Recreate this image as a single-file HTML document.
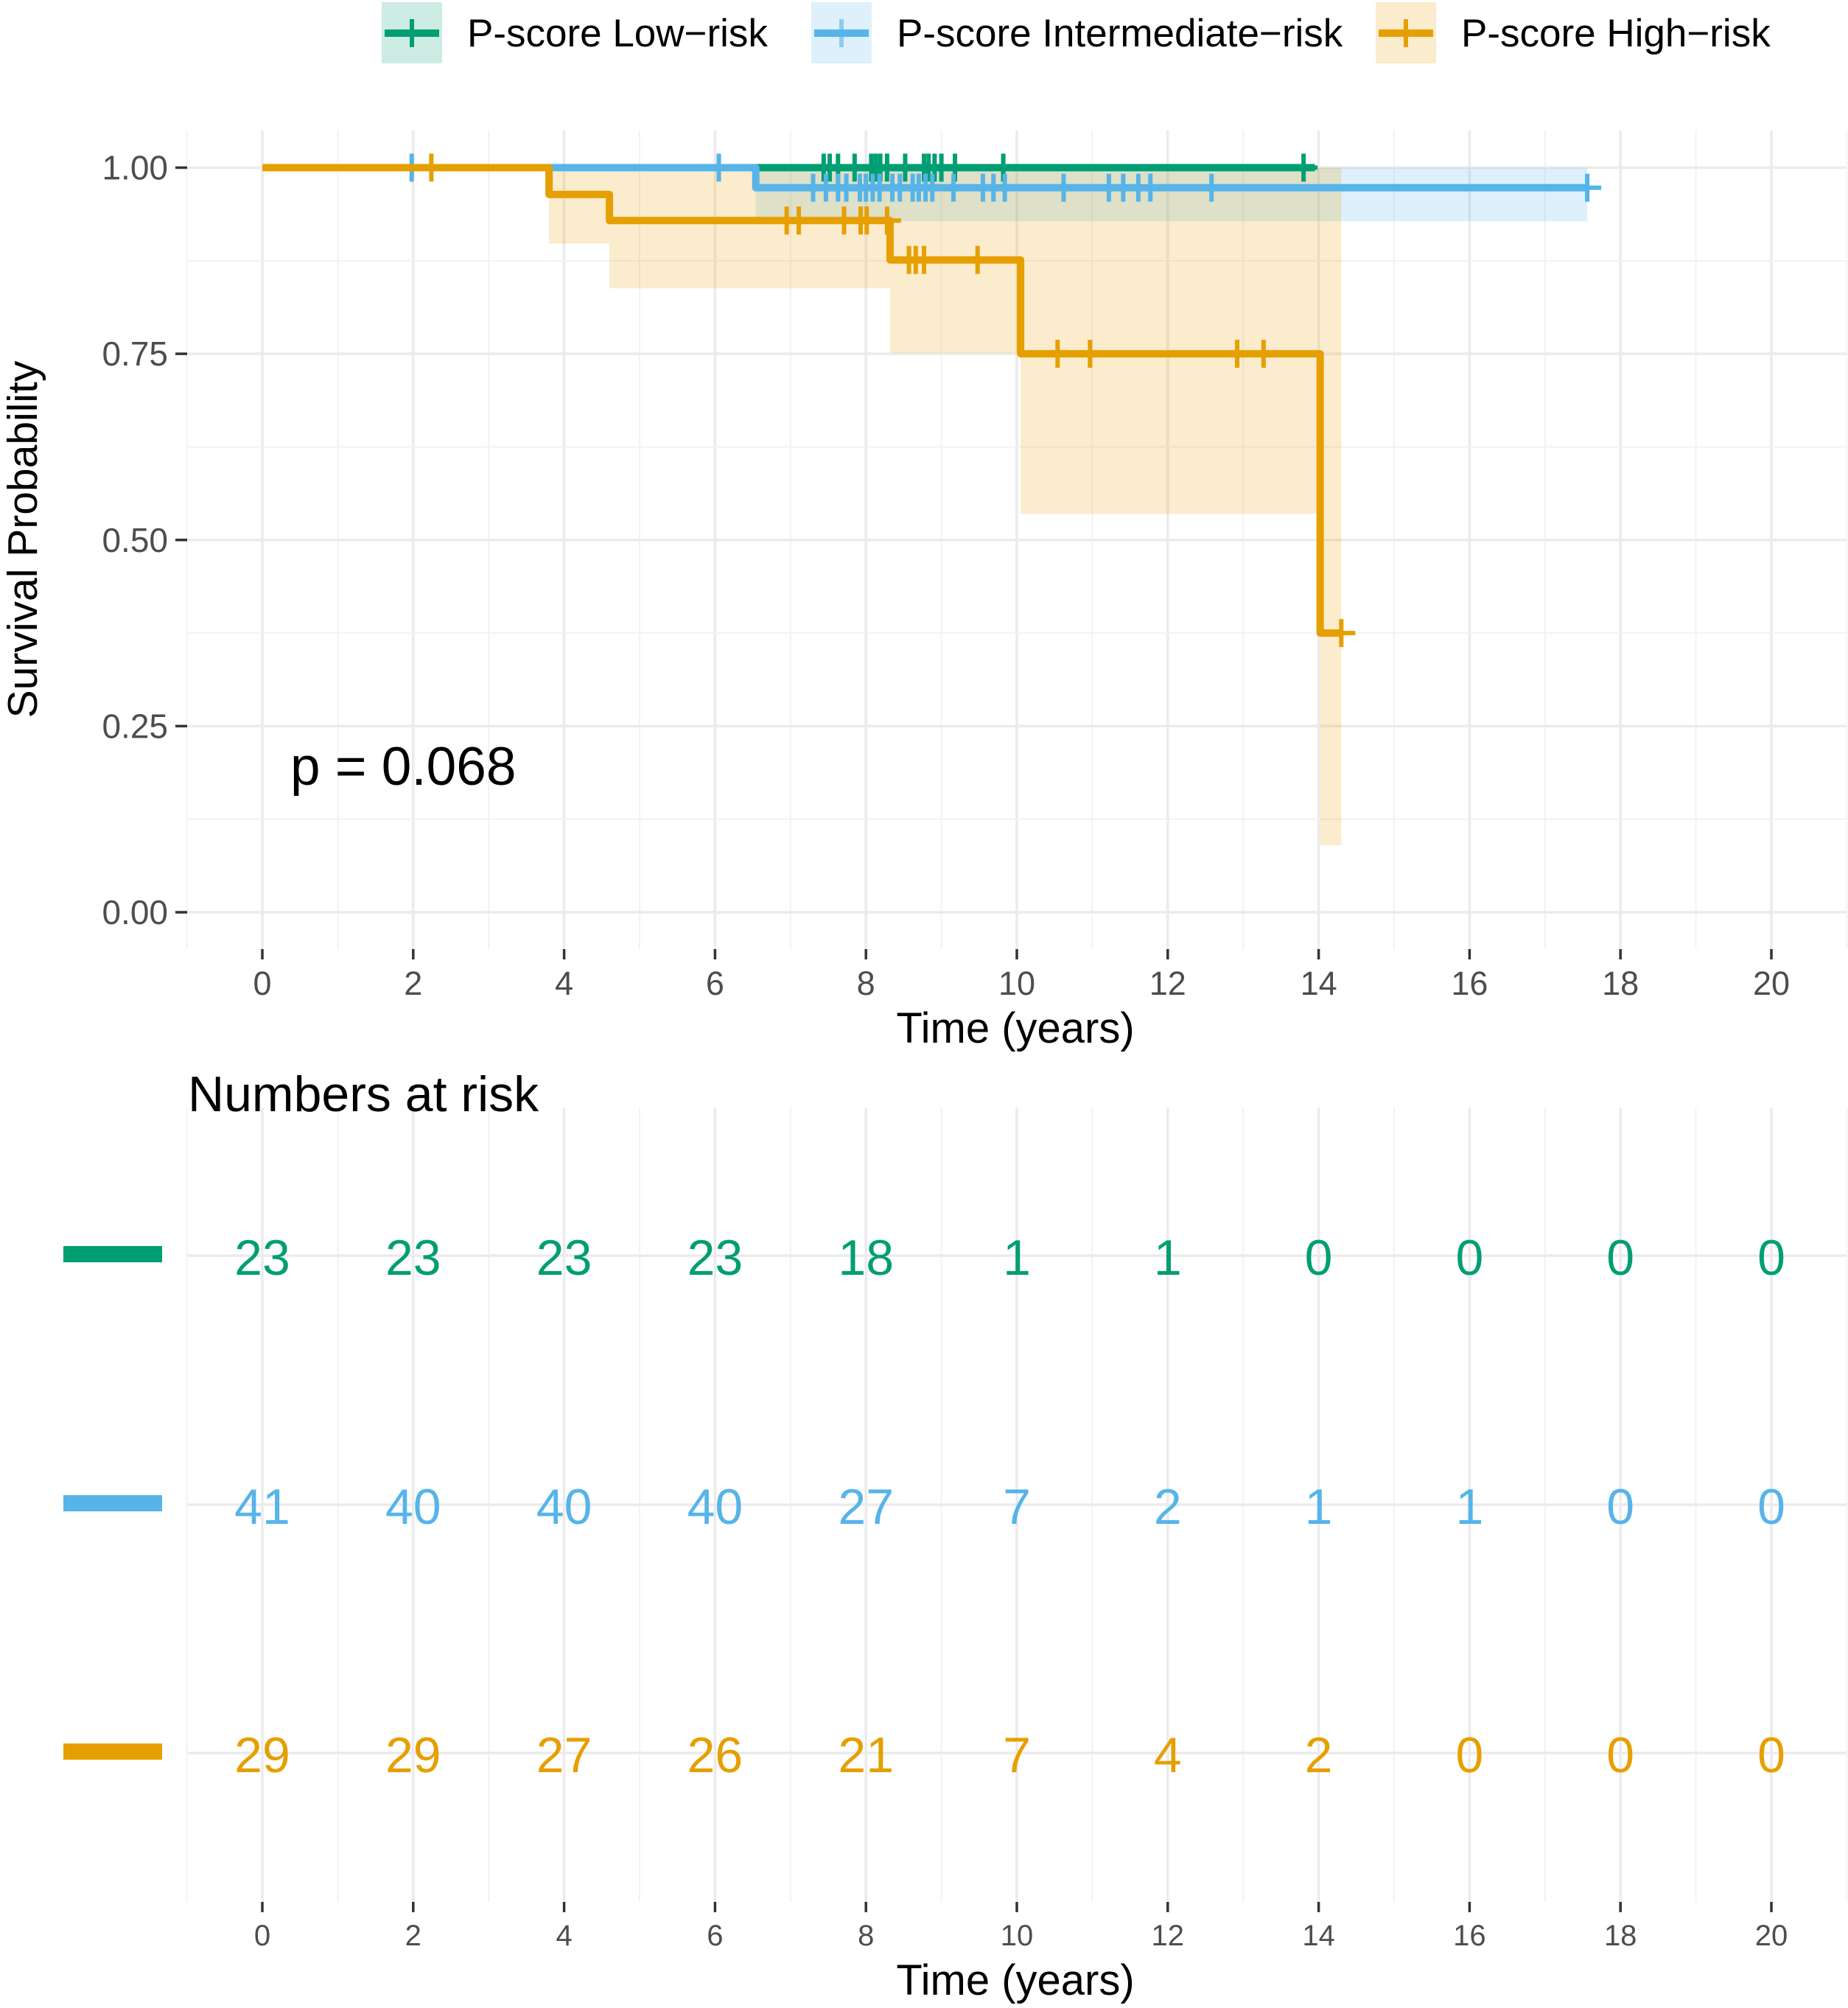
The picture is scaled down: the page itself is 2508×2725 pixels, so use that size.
<!DOCTYPE html>
<html><head><meta charset="utf-8">
<style>
html,body{margin:0;padding:0;background:#fff;}
svg text{font-family:"Liberation Sans",Arial,sans-serif;}
</style></head>
<body>
<svg id="chart" xmlns="http://www.w3.org/2000/svg" width="2508" height="2720" viewBox="0 0 2508 2720">
<g id="legend"></g>
<g id="main"></g>
<g id="risk"></g>
</svg>
<script>
const groupNames = ["P-score Low\u2212risk","P-score Intermediate\u2212risk","P-score High\u2212risk"];
const groupColors = ["#009E73","#56B4E9","#E69F00"];
// step functions: times where survival changes, and survival after each
const lowTimes = [0]; const lowSurv = [1.0]; const lowEnd = 13.95;
const midTimes = [0, 6.54]; const midSurv = [1.0, 0.973]; const midEnd = 17.56;
const highTimes = [0, 3.8, 4.6, 8.32, 10.05, 14.02]; const highSurv = [1.0, 0.964, 0.929, 0.876, 0.75, 0.375]; const highEnd = 14.3;
// confidence interval lower bounds (upper = 1)
const midCiTimes = [6.54]; const midCiLower = [0.928];
const highCiTimes = [3.8, 4.6, 8.32, 10.05, 14.02]; const highCiLower = [0.898, 0.838, 0.751, 0.535, 0.09];
// censoring times
const lowCens = [7.44,7.52,7.63,7.85,8.07,8.13,8.19,8.28,8.52,8.77,8.83,8.91,9.0,9.18,9.82,13.8];
const midCens = [1.98,6.05,7.30,7.47,7.63,7.74,7.92,8.0,8.09,8.18,8.35,8.45,8.62,8.70,8.79,8.88,9.16,9.55,9.69,9.84,10.62,11.22,11.41,11.61,11.77,12.58,17.56];
const highCens = [2.24,6.95,7.11,7.71,7.93,8.01,8.28,8.57,8.66,8.77,9.48,10.54,10.97,12.92,13.27,14.3];
const xTicks = [0,2,4,6,8,10,12,14,16,18,20];
const yTicks = [0,0.25,0.5,0.75,1.0];
const yTickLabels = ["0.00","0.25","0.50","0.75","1.00"];
const riskTimes = [0,2,4,6,8,10,12,14,16,18,20];
const riskLow = [23,23,23,23,18,1,1,0,0,0,0];
const riskMid = [41,40,40,40,27,7,2,1,1,0,0];
const riskHigh = [29,29,27,26,21,7,4,2,0,0,0];
const pText = "p = 0.068";

const NS="http://www.w3.org/2000/svg";
function mk(tag, attrs, parent){const e=document.createElementNS(NS,tag);for(const k in attrs)e.setAttribute(k,attrs[k]);parent.appendChild(e);return e;}
const L=254, R=2506, T=177, B=1288;
const xs = t => 356 + (t)*102.4;
const ys = s => 1238 - s*1010.5;
const main=document.getElementById('main'), legend=document.getElementById('legend'), risk=document.getElementById('risk');

for(let v=-1; v<=21; v++){
  const major = v%2===0;
  const g=mk('line',{x1:xs(v),x2:xs(v),y1:T,y2:B,stroke:major?'#ebebeb':'#f2f2f2','stroke-width':major?3.5:2},main);
  
  
}
for(let k=-1;k<=9;k++){
  const v=k*0.125; if(v<-0.05||v>1.05) continue;
  const major=k%2===0;
  const g=mk('line',{x1:L,x2:R,y1:ys(v),y2:ys(v),stroke:major?'#ebebeb':'#f2f2f2','stroke-width':major?3.5:2},main);
  
  
}
function ribbon(times, lows, end, color){
  for(let i=0;i<times.length;i++){
    const t0=times[i], t1=i+1<times.length?times[i+1]:end;
    const r=mk('rect',{x:xs(t0),y:ys(1),width:xs(t1)-xs(t0),height:ys(lows[i])-ys(1),fill:color,'fill-opacity':0.2},main);
    
    
  }
}
ribbon(midCiTimes, midCiLower, midEnd, groupColors[1]);
ribbon(highCiTimes, highCiLower, highEnd, groupColors[2]);
function curve(times, surv, end, cens, color, name){
  let d=`M${xs(times[0])},${ys(surv[0])}`;
  for(let i=1;i<times.length;i++){d+=` H${xs(times[i])} V${ys(surv[i])}`;}
  d+=` H${xs(end)}`;
  const p=mk('path',{d:d,fill:'none',stroke:color,'stroke-width':10,'stroke-linejoin':'round'},main);
  
  
  cens.forEach(c=>{
    let s=surv[0]; for(let i=0;i<times.length;i++){ if(times[i]<=c) s=surv[i]; }
    const g=mk('path',{d:`M${xs(c)},${ys(s)-19} V${ys(s)+19} M${xs(c)-19},${ys(s)} H${xs(c)+19}`,stroke:color,'stroke-width':6,fill:'none'},main);
    
    
  });
}
curve(lowTimes, lowSurv, lowEnd, lowCens, groupColors[0], 'low-risk');
curve(midTimes, midSurv, midEnd, midCens, groupColors[1], 'intermediate-risk');
curve(highTimes, highSurv, highEnd, highCens, groupColors[2], 'high-risk');
xTicks.forEach(v=>{
  const t=mk('line',{x1:xs(v),x2:xs(v),y1:B,y2:B+14,stroke:'#333','stroke-width':3.5},main);
   
  const l=mk('text',{x:xs(v),y:B+62,'font-size':45,fill:'#4d4d4d','text-anchor':'middle'},main); l.textContent=v;
   
});
yTicks.forEach((v,i)=>{
  const t=mk('line',{x1:L-16,x2:L,y1:ys(v),y2:ys(v),stroke:'#333','stroke-width':3.5},main);
   
  const l=mk('text',{x:L-26,y:ys(v)+16,'font-size':46,fill:'#4d4d4d','text-anchor':'end'},main); l.textContent=yTickLabels[i];
   
});
let tt=mk('text',{x:1378,y:1415,'font-size':58,fill:'#000','text-anchor':'middle'},main); tt.textContent='Time (years)';
 
tt=mk('text',{x:0,y:0,'font-size':57,fill:'#000','text-anchor':'middle',transform:'translate(50,732) rotate(-90)'},main); tt.textContent='Survival Probability';
 
tt=mk('text',{x:394,y:1065,'font-size':73,fill:'#000'},main); tt.textContent=pText;
 

const legX=[518,1101,1867];
groupNames.forEach((n,i)=>{
  const g=mk('g',{},legend);
   
  mk('rect',{x:legX[i],y:3,width:82,height:83,fill:groupColors[i],'fill-opacity':0.2},g);
  mk('line',{x1:legX[i]+4,x2:legX[i]+78,y1:45,y2:45,stroke:groupColors[i],'stroke-width':10},g);
  if(i!==1) mk('line',{x1:legX[i]+41,x2:legX[i]+41,y1:26,y2:64,stroke:groupColors[i],'stroke-width':6},g);
  else mk('line',{x1:legX[i]+41,x2:legX[i]+41,y1:26,y2:64,stroke:groupColors[i],'stroke-width':6,'stroke-opacity':0.6},g);
  const t=mk('text',{x:legX[i]+116,y:63,'font-size':53,fill:'#000'},g); t.textContent=n;
});

const RT=1503, RB=2581;
for(let v=-1; v<=21; v++){
  const major=v%2===0;
  const g=mk('line',{x1:xs(v),x2:xs(v),y1:RT,y2:RB,stroke:major?'#ebebeb':'#f2f2f2','stroke-width':major?3.5:2},risk);
   
}
const rowY=[1704,2042,2379];
const riskRows=[riskLow,riskMid,riskHigh];
rowY.forEach((y,r)=>{
  const gl=mk('line',{x1:L,x2:R,y1:y,y2:y,stroke:'#ebebeb','stroke-width':3.5},risk);
   
  const bar=mk('rect',{x:86,y:y-13,width:134,height:22,fill:groupColors[r]},risk);
   
  riskRows[r].forEach((v,i)=>{
    const t=mk('text',{x:xs(riskTimes[i]),y:y+26,'font-size':68,fill:groupColors[r],'text-anchor':'middle'},risk); t.textContent=v;
     
  });
});
xTicks.forEach(v=>{
  const t=mk('line',{x1:xs(v),x2:xs(v),y1:RB,y2:RB+14,stroke:'#333','stroke-width':3.5},risk);
   
  const l=mk('text',{x:xs(v),y:2640,'font-size':40,fill:'#4d4d4d','text-anchor':'middle'},risk); l.textContent=v;
   
});
tt=mk('text',{x:1378,y:2707,'font-size':58,fill:'#000','text-anchor':'middle'},risk); tt.textContent='Time (years)';
 
tt=mk('text',{x:255,y:1508,'font-size':68,fill:'#000'},risk); tt.textContent='Numbers at risk';
 
</script>
</body></html>
